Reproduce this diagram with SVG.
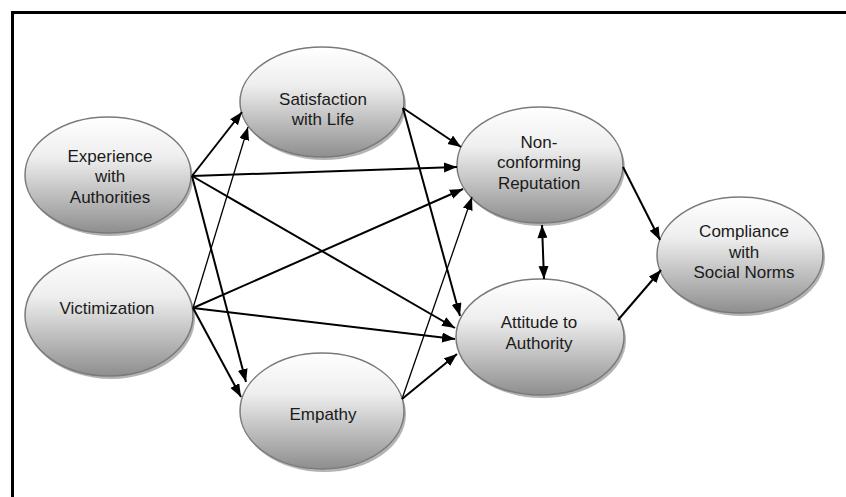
<svg xmlns="http://www.w3.org/2000/svg" width="846" height="497" viewBox="0 0 846 497">
  <style>
    .node-shadow { fill: #b4b4b4; }
    .node-body { fill: url(#nodeFill); stroke: #7a7a7a; stroke-width: 1.5; }
    .label { font-family: "Liberation Sans", Arial, sans-serif; font-size: 17px; fill: #1a1a1a; text-anchor: middle; }
    .link { stroke: #000; stroke-width: 2; fill: none; marker-end: url(#arrow); }
    .link.thin { stroke-width: 1.3; }
    .frame { stroke: #000; stroke-width: 3; fill: none; }
  </style>
  <defs>
    <linearGradient id="nodeFill" x1="0" y1="0" x2="0" y2="1">
      <stop offset="0" stop-color="#ffffff"/>
      <stop offset="0.35" stop-color="#eeeeee"/>
      <stop offset="1" stop-color="#8e8e8e"/>
    </linearGradient>
    <marker id="arrow" markerUnits="userSpaceOnUse" markerWidth="14" markerHeight="11" refX="13" refY="5" orient="auto">
      <path d="M0,0 L13,5 L0,10 z" fill="#000"/>
    </marker>
    <marker id="arrowStart" markerUnits="userSpaceOnUse" markerWidth="14" markerHeight="11" refX="0" refY="5" orient="auto">
      <path d="M13,0 L0,5 L13,10 z" fill="#000"/>
    </marker>
  </defs>

  <rect width="846" height="497" fill="#fff"/>

  <!-- outer frame: top and left edges -->
  <path class="frame" d="M846,12.5 L12.5,12.5 L12.5,497"/>

  <g id="experience">
    <ellipse class="node-shadow" cx="110" cy="178" rx="83" ry="58"/>
    <ellipse class="node-body" cx="108" cy="175" rx="83" ry="58"/>
    <text class="label" x="110" y="162">Experience</text>
    <text class="label" x="110" y="182">with</text>
    <text class="label" x="110" y="203">Authorities</text>
  </g>

  <g id="victimization">
    <ellipse class="node-shadow" cx="111" cy="318" rx="84" ry="61"/>
    <ellipse class="node-body" cx="109" cy="315" rx="84" ry="61"/>
    <text class="label" x="107" y="314">Victimization</text>
  </g>

  <g id="satisfaction">
    <ellipse class="node-shadow" cx="324" cy="105" rx="82" ry="55"/>
    <ellipse class="node-body" cx="322" cy="102" rx="82" ry="55"/>
    <text class="label" x="323" y="105">Satisfaction</text>
    <text class="label" x="323" y="125">with Life</text>
  </g>

  <g id="empathy">
    <ellipse class="node-shadow" cx="324" cy="414" rx="82" ry="58"/>
    <ellipse class="node-body" cx="322" cy="411" rx="82" ry="58"/>
    <text class="label" x="323" y="420">Empathy</text>
  </g>

  <g id="reputation">
    <ellipse class="node-shadow" cx="542" cy="168" rx="83" ry="58"/>
    <ellipse class="node-body" cx="540" cy="165" rx="83" ry="58"/>
    <text class="label" x="539" y="148">Non-</text>
    <text class="label" x="539" y="168">conforming</text>
    <text class="label" x="539" y="189">Reputation</text>
  </g>

  <g id="attitude">
    <ellipse class="node-shadow" cx="542" cy="340" rx="84" ry="58"/>
    <ellipse class="node-body" cx="540" cy="337" rx="84" ry="58"/>
    <text class="label" x="539" y="328">Attitude to</text>
    <text class="label" x="539" y="349">Authority</text>
  </g>

  <g id="compliance">
    <ellipse class="node-shadow" cx="742" cy="258" rx="83" ry="58"/>
    <ellipse class="node-body" cx="740" cy="255" rx="83" ry="58"/>
    <text class="label" x="744" y="237">Compliance</text>
    <text class="label" x="744" y="258">with</text>
    <text class="label" x="744" y="278">Social Norms</text>
  </g>

  <g id="connectors">
    <!-- from Experience with Authorities -->
    <line class="link" x1="192" y1="176" x2="242" y2="112"/>
    <line class="link" x1="192" y1="176" x2="457" y2="167"/>
    <line class="link" x1="192" y1="176" x2="455" y2="328"/>
    <line class="link" x1="192" y1="176" x2="246" y2="382"/>
    <!-- from Victimization -->
    <line class="link thin" x1="193" y1="308" x2="248" y2="127"/>
    <line class="link" x1="193" y1="308" x2="463" y2="189"/>
    <line class="link" x1="193" y1="308" x2="455" y2="339"/>
    <line class="link" x1="193" y1="308" x2="241" y2="397"/>
    <!-- from Satisfaction with Life -->
    <line class="link" x1="403" y1="108" x2="461" y2="147"/>
    <line class="link" x1="403" y1="108" x2="460" y2="316"/>
    <!-- from Empathy -->
    <line class="link thin" x1="402" y1="399" x2="472" y2="197"/>
    <line class="link" x1="402" y1="399" x2="457" y2="354"/>
    <!-- reputation and attitude -->
    <line class="link" x1="542" y1="225" x2="544" y2="279" marker-start="url(#arrowStart)"/>
    <!-- into Compliance -->
    <line class="link" x1="623" y1="167" x2="660" y2="240"/>
    <line class="link" x1="618" y1="320" x2="661" y2="270"/>
  </g>
</svg>
